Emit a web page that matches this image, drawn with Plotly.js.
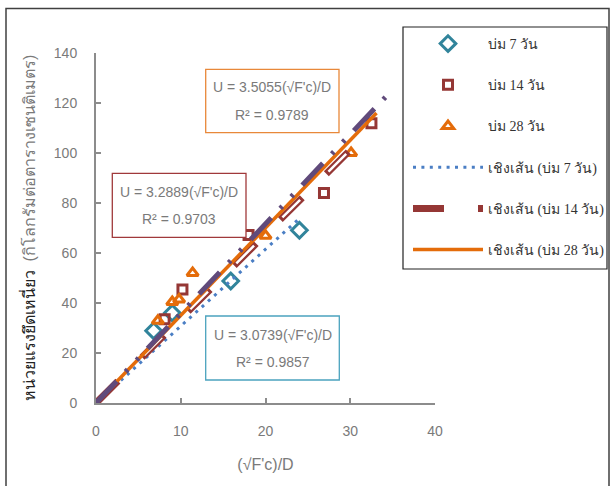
<!DOCTYPE html>
<html>
<head>
<meta charset="utf-8">
<script src="https://cdn.plot.ly/plotly-3.0.1.min.js"></script>
<style>html,body{margin:0;padding:0;background:#fff;}#chart{width:614px;height:486px;}</style>
</head>
<body>
<div id="chart"></div>
<script>
// ---- data ----
const x7  = [6.8, 9.0, 15.9, 24.0];
const y7  = [28.9, 36.0, 48.8, 69.1];
const x14 = [8.1, 10.2, 18.0, 26.9, 32.5];
const y14 = [33.5, 45.4, 67.2, 84.0, 111.9];
const x28 = [7.3, 9.0, 9.8, 11.4, 20.0, 30.1];
const y28 = [32.9, 40.4, 41.4, 52.0, 66.9, 100.0];

const trend7X  = [0, 24.0];  const trend7Y  = [0, 73.8];
const trend14X = [0, 32.6];  const trend14Y = [0, 110.0];
const trend28X = [0, 33.1];  const trend28Y = [0, 116.0];
const trendPX  = [0, 34.7];  const trendPY  = [0, 124.3];

const names = ['บ่ม 7 วัน', 'บ่ม 14 วัน', 'บ่ม 28 วัน',
               'เชิงเส้น (บ่ม 7 วัน)', 'เชิงเส้น (บ่ม 14 วัน)', 'เชิงเส้น (บ่ม 28 วัน)'];
const eqText = ["U = 3.5055(√F'c)/D", 'R² = 0.9789',
                "U = 3.2889(√F'c)/D", 'R² = 0.9703',
                "U = 3.0739(√F'c)/D", 'R² = 0.9857'];
const xTicks = [0, 10, 20, 30, 40];
const yTicks = [0, 20, 40, 60, 80, 100, 120, 140];

// ---- geometry helpers (pixel -> paper) ----
const L = 96, R = 179, T = 53, B = 83, W = 614, H = 486;
const PW = W - L - R, PH = H - T - B;
const px = v => (v - L) / PW;
const py = v => (H - B - v) / PH;

const teal = '#31849B', maroon = '#953735', orange = '#E46C0A';
const blue = '#4A7EC4', purple = '#604A7B';

const traces = [
  {x: x7, y: y7, name: names[0], type: 'scatter', mode: 'markers', legendgroup: 'g1',
   marker: {symbol: 'diamond-open', size: 12, color: teal, line: {width: 3, color: teal}}},
  {x: x14, y: y14, name: names[1], type: 'scatter', mode: 'markers', legendgroup: 'g2',
   marker: {symbol: 'square-open', size: 9, color: maroon, line: {width: 3, color: maroon}}},
  {x: x28, y: y28, name: names[2], type: 'scatter', mode: 'markers', legendgroup: 'g3',
   marker: {symbol: 'triangle-up-open', size: 10, color: orange, line: {width: 3, color: orange}}},
  {x: trend7X, y: trend7Y, name: names[3], type: 'scatter', mode: 'lines', legendgroup: 'g4',
   line: {color: blue, width: 3, dash: '3px,5.4px'}},
  {x: trend14X, y: trend14Y, name: names[4], type: 'scatter', mode: 'lines', legendgroup: 'g5',
   line: {color: maroon, width: 7, dash: '31px,34px'}},
  {x: trend14X, y: trend14Y, name: names[4], type: 'scatter', mode: 'lines', legendgroup: 'g5', showlegend: false,
   hoverinfo: 'skip', line: {color: '#ffffff', width: 2.5, dash: '0px,3px,25px,37px'}},
  {x: trend28X, y: trend28Y, name: names[5], type: 'scatter', mode: 'lines', legendgroup: 'g6',
   line: {color: orange, width: 3.5}},
  {x: trendPX, y: trendPY, name: 'trend', type: 'scatter', mode: 'lines', legendgroup: 'g7', showlegend: false,
   line: {color: purple, width: 5, dash: '30px,13px,3px,13px,3px,13px'}}
];

const gray = '#7a7a7a';
const axisCommon = {
  showline: true, linecolor: '#8c8c8c', linewidth: 2,
  ticks: 'inside', ticklen: 5, tickwidth: 2, tickcolor: '#8c8c8c',
  showgrid: false, zeroline: false, mirror: false,
  tickfont: {family: 'Liberation Sans, Arial, sans-serif', size: 14, color: gray},
  ticklabelstandoff: 14, fixedrange: true
};

function box(x0, y0, x1, y1, color) {
  return {type: 'rect', xref: 'paper', yref: 'paper', layer: 'above',
          x0: px(x0), x1: px(x1), y0: py(y1), y1: py(y0),
          fillcolor: '#ffffff', line: {color: color, width: 1.3}};
}
function label(txt, cx, cy) {
  return {text: txt, xref: 'paper', yref: 'paper', x: px(cx), y: py(cy),
          xanchor: 'center', yanchor: 'middle', showarrow: false,
          font: {family: 'Liberation Sans, Arial, sans-serif', size: 14, color: gray}};
}

const layout = {
  width: W, height: H,
  margin: {l: L, r: R, t: T, b: B, pad: 0, autoexpand: false},
  paper_bgcolor: '#ffffff', plot_bgcolor: '#ffffff',
  showlegend: true,
  xaxis: Object.assign({}, axisCommon, {range: [0, 40], tickvals: xTicks,
    title: {text: "(√F'c)/D", standoff: 21,
            font: {family: 'Liberation Sans, Arial, sans-serif', size: 16, color: gray}}}),
  yaxis: Object.assign({}, axisCommon, {range: [0, 140], tickvals: yTicks,
    title: {text: "<span style='color:#222'>หน่วยแรงยึดเหนี่ยว</span>  (กิโลกรัมต่อตารางเซนติเมตร)", standoff: 14,
            font: {family: 'Liberation Sans, Arial, sans-serif', size: 16, color: gray}}}),
  legend: {x: px(408), y: py(28), xanchor: 'left', yanchor: 'top',
           bgcolor: 'rgba(0,0,0,0)', borderwidth: 0, tracegroupgap: 20, itemwidth: 70,
           font: {family: 'Liberation Serif, Times New Roman, serif', size: 14, color: '#333333'}},
  shapes: [
    {type: 'rect', xref: 'paper', yref: 'paper', layer: 'below',
     x0: px(6), x1: px(609), y0: py(495), y1: py(8.6), line: {color: '#404040', width: 1.5}},
    {type: 'rect', xref: 'paper', yref: 'paper', layer: 'above',
     x0: px(403), x1: px(607), y0: py(269), y1: py(27), fillcolor: '#ffffff', line: {color: '#222222', width: 1.2}},
    box(205.7, 69.3, 339, 132.7, '#E8883A'),
    box(112.3, 173.3, 246, 237.3, '#A0393B'),
    box(205.7, 316, 339.3, 380, '#4BA3BE')
  ],
  annotations: [
    label(eqText[0], 272.4, 87), label(eqText[1], 272.4, 115),
    label(eqText[2], 179, 191.7), label(eqText[3], 179, 219),
    label(eqText[4], 272.5, 335), label(eqText[5], 272.5, 361.7)
  ]
};

Plotly.newPlot('chart', traces, layout, {displayModeBar: false, staticPlot: true});
</script>
</body>
</html>
